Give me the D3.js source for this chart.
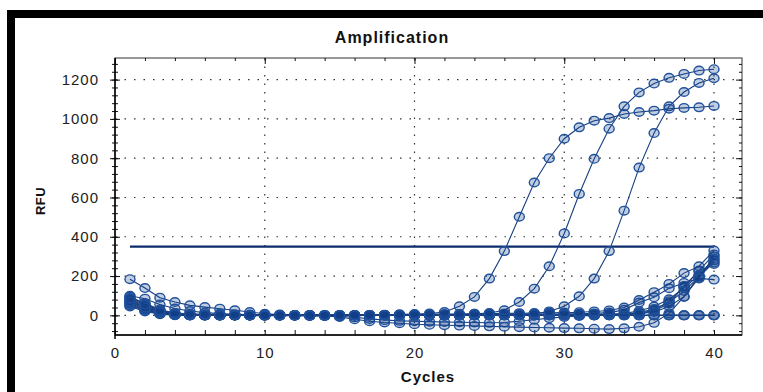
<!DOCTYPE html>
<html>
<head>
<meta charset="utf-8">
<script src="https://cdn.jsdelivr.net/npm/d3@7"></script>
<style>
  html, body { margin: 0; padding: 0; background: #fff; }
  svg { display: block; font-family: "Liberation Sans", Arial, sans-serif; }
</style>
</head>
<body>
<div id="chart"></div>
<script>
// cycles and tick labels
const cycles = [1,2,3,4,5,6,7,8,9,10,11,12,13,14,15,16,17,18,19,20,21,22,23,24,25,26,27,28,29,30,31,32,33,34,35,36,37,38,39,40];
const xTicks = [0, 10, 20, 30, 40];
const yTicks = [0, 200, 400, 600, 800, 1000, 1200];
const threshold = 350;

// RFU per well
const wellA = [85,55,25,12,8,5,3,2,1,0, 0,-1,-1,0,0,1,2,3,5,7, 9,17,46,94,187,327,502,676,800,899, 957,991,1004,1025,1035,1042,1052,1056,1059,1066];
const wellB = [70,40,15,5,2,1,0,0,-1,0, 0,0,1,0,0,0,1,2,2,3, 4,5,6,8,12,26,68,136,250,417, 618,797,950,1064,1135,1180,1209,1229,1246,1253];
const wellC = [95,60,22,8,3,1,0,0,0,-1, 0,0,0,0,1,1,1,2,2,2, 3,3,3,3,4,4,5,8,20,46, 97,187,327,533,752,928,1064,1137,1183,1207];
const wellE = [60,30,10,3,1,0,0,0,0,0, 0,0,0,0,0,0,1,2,3,4, 5,6,7,8,9,10,11,12,13,14, 16,20,25,40,78,118,160,215,250,330];
const wellF = [100,85,55,35,22,14,9,6,4,3, 2,1,1,0,0,0,0,1,1,2, 2,3,3,4,4,5,5,6,6,7, 8,10,14,28,65,92,138,165,188,182];
const wellG = [50,25,8,2,0,0,0,0,0,0, 0,0,0,0,0,1,1,1,2,2, 2,3,3,3,4,4,4,5,5,5, 5,6,6,6,8,17,45,95,190,300];
const wellH = [75,45,18,5,1,0,0,-1,-1,-2, -2,-2,-3,-3,-8,-20,-30,-36,-40,-45, -48,-50,-52,-54,-56,-58,-60,-62,-63,-65, -66,-68,-70,-66,-58,-38,10,95,200,280];
const wellI = [45,20,6,1,0,0,0,0,0,0, -1,-1,-2,-3,-5,-10,-18,-24,-28,-30, -32,-34,-35,-36,-38,-36,-30,-22,-14,-8, -3,0,2,5,10,22,60,150,225,262];
const wellJ = [88,62,30,10,3,1,0,0,0,0, 0,0,0,0,0,0,0,0,0,1, 1,1,1,1,2,2,2,2,3,3, 3,4,6,10,22,45,82,140,205,288];
const wellK = [55,28,9,2,0,0,0,0,0,0, 0,0,0,0,0,0,0,0,1,1, 1,1,1,1,1,2,2,2,2,2, 2,3,3,5,14,32,66,124,196,270];
const wellL = [68,42,16,5,1,0,0,0,0,0, 0,0,0,0,0,0,0,-1,-1,-1, 0,0,0,0,0,0,1,1,1,1, 1,1,2,3,9,26,72,145,228,310];
const wellN1 = [184,139,90,68,51,42,34,26,17,8, 4,2,1,0,0,0,0,0,0,0, 0,0,0,0,0,0,0,0,0,0, 0,0,0,0,0,0,0,0,0,0];
const wellN2 = [65,35,12,4,1,0,-1,0,0,0, 1,0,0,-1,0,0,1,0,0,0, 1,0,0,0,0,1,0,0,0,0, 0,0,1,0,0,0,0,0,0,0];
const wellN3 = [80,50,20,6,2,0,0,0,1,0, 0,0,-1,0,0,0,0,0,-1,0, 0,0,0,1,0,0,0,-1,0,0, 0,1,0,0,0,0,0,0,0,0];

const wells = [wellN1, wellN2, wellN3, wellI, wellH, wellL, wellK, wellJ, wellG, wellF, wellE, wellC, wellB, wellA];

const width = 763, height = 392;
const pLeft = 115, pRight = 742, pTop = 58, pBottom = 335;

const svg = d3.select('#chart').append('svg')
  .attr('width', width)
  .attr('height', height);

// thick frame round the picture
svg.append('path')
  .attr('d', `M11,${height} V14 H${width}`)
  .attr('fill', 'none')
  .attr('stroke', '#000')
  .attr('stroke-width', 8);

const x = d3.scaleLinear().domain([0, 41.87]).range([pLeft, pRight]);
const y = d3.scaleLinear().domain([-100, 1310]).range([pBottom, pTop]);

const xMinor = d3.range(0, 42, 2);
const yMinor = d3.range(-80, 1310, 40);

// dotted grid
svg.append('g').selectAll('line')
  .data(yTicks)
  .enter().append('line')
  .attr('x1', pLeft).attr('x2', pRight)
  .attr('y1', d => y(d)).attr('y2', d => y(d))
  .attr('stroke', '#333').attr('stroke-width', 1.2)
  .attr('stroke-dasharray', '1.5,8');
svg.append('g').selectAll('line')
  .data(xTicks.filter(d => d > 0))
  .enter().append('line')
  .attr('y1', pTop).attr('y2', pBottom)
  .attr('x1', d => x(d)).attr('x2', d => x(d))
  .attr('stroke', '#333').attr('stroke-width', 1.2)
  .attr('stroke-dasharray', '1.5,7');

// frame of the plot
svg.append('rect')
  .attr('x', pLeft).attr('y', pTop)
  .attr('width', pRight - pLeft).attr('height', pBottom - pTop)
  .attr('fill', 'none').attr('stroke', '#333').attr('stroke-width', 1);

// ticks on all four sides
function ticks(axis, tr, vals, size) {
  const g = svg.append('g').attr('transform', tr)
    .call(axis.tickValues(vals).tickSize(size).tickFormat(''));
  g.select('.domain').remove();
  g.selectAll('line').attr('stroke', '#111');
  return g;
}
ticks(d3.axisLeft(y), `translate(${pLeft},0)`, yMinor, 3);
ticks(d3.axisRight(y), `translate(${pLeft},0)`, yMinor, 3);
ticks(d3.axisLeft(y), `translate(${pLeft},0)`, yTicks, 5);
ticks(d3.axisRight(y), `translate(${pLeft},0)`, yTicks, 5);
ticks(d3.axisLeft(y), `translate(${pRight},0)`, yMinor, 3);
ticks(d3.axisLeft(y), `translate(${pRight},0)`, yTicks, 6);
ticks(d3.axisTop(x), `translate(0,${pBottom})`, xMinor, 5);
ticks(d3.axisBottom(x), `translate(0,${pTop})`, xMinor, 3);
ticks(d3.axisBottom(x), `translate(0,${pTop})`, xTicks, 6);

// axis lines
svg.append('line').attr('x1', pLeft).attr('x2', pLeft).attr('y1', pTop).attr('y2', pBottom + 4)
  .attr('stroke', '#000').attr('stroke-width', 1.5);
svg.append('line').attr('x1', pLeft).attr('x2', pRight).attr('y1', pBottom).attr('y2', pBottom)
  .attr('stroke', '#000').attr('stroke-width', 1.5);

// tick labels
const yAxis = svg.append('g')
  .attr('transform', `translate(${pLeft},0)`)
  .call(d3.axisLeft(y).tickValues(yTicks).tickSize(0).tickPadding(16).tickFormat(d3.format('d')));
yAxis.select('.domain').remove();
const xAxis = svg.append('g')
  .attr('transform', `translate(0,${pBottom})`)
  .call(d3.axisBottom(x).tickValues(xTicks).tickSize(0).tickPadding(12).tickFormat(d3.format('d')));
xAxis.select('.domain').remove();
svg.selectAll('.tick text')
  .style('font-size', '15px')
  .style('letter-spacing', '1px')
  .attr('fill', '#222');

// threshold
svg.append('line')
  .attr('x1', x(cycles[0])).attr('x2', x(cycles[cycles.length - 1]))
  .attr('y1', y(threshold)).attr('y2', y(threshold))
  .attr('stroke', '#0b2d6b').attr('stroke-width', 2.2);

// amplification curves
const line = d3.line()
  .x((d, i) => x(cycles[i]))
  .y(d => y(d));

wells.forEach(w => {
  const g = svg.append('g');
  g.append('path')
    .attr('d', line(w))
    .attr('fill', 'none')
    .attr('stroke', '#173f80')
    .attr('stroke-width', 1.1);
  g.selectAll('ellipse')
    .data(w)
    .enter().append('ellipse')
    .attr('cx', (d, i) => x(cycles[i]))
    .attr('cy', d => y(d))
    .attr('rx', 5).attr('ry', 4.3)
    .attr('fill', 'rgba(15,60,140,0.26)')
    .attr('stroke', '#21519a')
    .attr('stroke-width', 1.4);
});

// titles
svg.append('text')
  .attr('x', 392).attr('y', 43)
  .attr('text-anchor', 'middle')
  .style('font-size', '16px').style('font-weight', 'bold').style('letter-spacing', '1px')
  .attr('fill', '#111')
  .text('Amplification');

svg.append('text')
  .attr('transform', 'translate(45,201) rotate(-90)')
  .attr('text-anchor', 'middle')
  .style('font-size', '13px').style('font-weight', 'bold').style('letter-spacing', '0.5px')
  .attr('fill', '#111')
  .text('RFU');

svg.append('text')
  .attr('x', 428).attr('y', 382)
  .attr('text-anchor', 'middle')
  .style('font-size', '15px').style('font-weight', 'bold').style('letter-spacing', '1px')
  .attr('fill', '#111')
  .text('Cycles');
</script>
</body>
</html>
